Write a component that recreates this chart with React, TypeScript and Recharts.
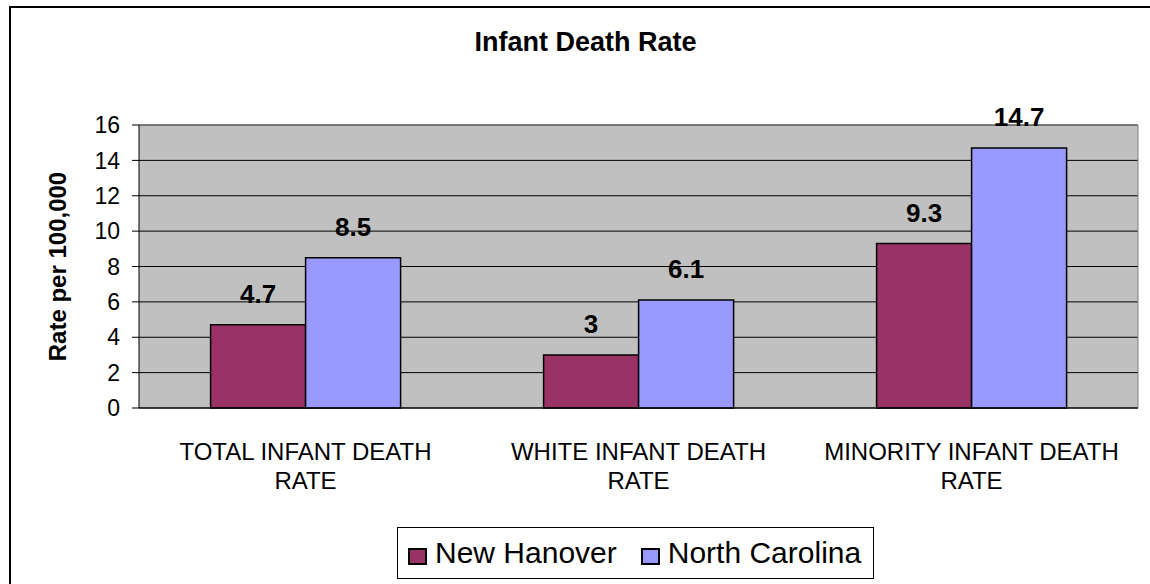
import React from 'react';
import { BarChart, Bar, XAxis, YAxis, CartesianGrid, LabelList, Legend, ReferenceLine } from 'recharts';

const categories = ['TOTAL INFANT DEATH RATE', 'WHITE INFANT DEATH RATE', 'MINORITY INFANT DEATH RATE'];
const newHanover = [4.7, 3, 9.3];
const northCarolina = [8.5, 6.1, 14.7];
const yTicks = [0, 2, 4, 6, 8, 10, 12, 14, 16];
const edgeTicks = [0, 1, 2, 3];

const seriesNames = ['New Hanover', 'North Carolina'];
const seriesColors = ['#993366', '#9999FF'];

const data = categories.map((name, i) => ({
    name,
    newHanover: newHanover[i],
    northCarolina: northCarolina[i],
}));

const FONT = '"Liberation Sans", Arial, sans-serif';

// category label: last word wraps to a second line, like the Excel original
function CategoryTick(props: any) {
    const { x, y, payload } = props;
    const words = String(payload.value).split(' ');
    const last = words.pop();
    return (
        <text x={x} y={y} textAnchor="middle" fontFamily={FONT} fontSize={24} fill="#000">
            <tspan x={x} dy={43}>{words.join(' ')}</tspan>
            <tspan x={x} dy={29}>{last}</tspan>
        </text>
    );
}

function YLabel(props: any) {
    const { viewBox } = props;
    const cx = viewBox.x + 57;
    const cy = viewBox.y + viewBox.height / 2;
    return (
        <text
            x={cx}
            y={cy}
            transform={`rotate(-90, ${cx}, ${cy})`}
            textAnchor="middle"
            dominantBaseline="central"
            fontFamily={FONT}
            fontSize={24}
            fontWeight="bold"
            fill="#000"
        >
            Rate per 100,000
        </text>
    );
}

function LegendBox() {
    return (
        <div
            style={{
                boxSizing: 'border-box',
                width: '100%',
                height: '100%',
                border: '1px solid #000',
                background: '#fff',
                display: 'flex',
                alignItems: 'center',
                paddingLeft: 10,
                fontFamily: FONT,
                fontSize: 30,
                color: '#000',
            }}
        >
            {seriesNames.map((n, i) => (
                <span key={n} style={{ display: 'flex', alignItems: 'center', marginLeft: i === 0 ? 0 : 24 }}>
                    <span
                        style={{
                            display: 'inline-block',
                            width: 15,
                            height: 13,
                            background: seriesColors[i],
                            border: '2px solid #000',
                            marginRight: 8,
                            marginTop: 6,
                        }}
                    />
                    {n}
                </span>
            ))}
        </div>
    );
}

export default function App() {
    return (
        <div style={{ position: 'absolute', left: 0, top: 0, width: 1150, height: 584, background: '#fff', overflow: 'hidden' }}>
            <div
                style={{
                    position: 'absolute',
                    left: 9,
                    top: 6,
                    width: 1200,
                    height: 640,
                    borderTop: '2px solid #000',
                    borderLeft: '2px solid #000',
                }}
            />
            <div
                style={{
                    position: 'absolute',
                    left: 0,
                    top: 27,
                    width: 1171,
                    textAlign: 'center',
                    fontFamily: FONT,
                    fontSize: 27,
                    fontWeight: 'bold',
                    color: '#000',
                }}
            >
                Infant Death Rate
            </div>
            <BarChart
                width={1150}
                height={584}
                data={data}
                margin={{ top: 125, right: 0, bottom: 95, left: 0 }}
                barCategoryGap="21.5%"
                barGap={0}
                style={{ position: 'absolute', left: 0, top: 0 }}
            >
                <CartesianGrid vertical={false} stroke="#000" fill="#C0C0C0" fillOpacity={1} />
                <XAxis
                    xAxisId={0}
                    type="number"
                    domain={[0, 3]}
                    allowDataOverflow
                    ticks={edgeTicks}
                    height={1}
                    tick={false}
                    tickSize={7}
                    axisLine={{ stroke: '#000' }}
                    tickLine={{ stroke: '#000' }}
                />
                <XAxis
                    xAxisId={1}
                    dataKey="name"
                    height={80}
                    axisLine={false}
                    tickLine={false}
                    interval={0}
                    tick={<CategoryTick />}
                />
                <YAxis
                    domain={[0, 16]}
                    ticks={yTicks}
                    width={139}
                    tickSize={7}
                    tickMargin={12}
                    axisLine={{ stroke: '#000' }}
                    tickLine={{ stroke: '#000' }}
                    tick={{ fontSize: 23, fill: '#000', fontFamily: FONT }}
                    label={<YLabel />}
                />
                <YAxis
                    yAxisId="r"
                    orientation="right"
                    domain={[0, 16]}
                    width={12}
                    tick={false}
                    tickLine={false}
                    axisLine={{ stroke: '#808080' }}
                />
                <ReferenceLine y={16} stroke="#808080" />
                <Bar
                    xAxisId={1}
                    dataKey="newHanover"
                    name={seriesNames[0]}
                    fill={seriesColors[0]}
                    stroke="#000"
                    strokeWidth={1.5}
                    isAnimationActive={false}
                >
                    <LabelList dataKey="newHanover" position="top" offset={22} fill="#000" fontSize={26} fontWeight="bold" fontFamily={FONT} />
                </Bar>
                <Bar
                    xAxisId={1}
                    dataKey="northCarolina"
                    name={seriesNames[1]}
                    fill={seriesColors[1]}
                    stroke="#000"
                    strokeWidth={1.5}
                    isAnimationActive={false}
                >
                    <LabelList dataKey="northCarolina" position="top" offset={22} fill="#000" fontSize={26} fontWeight="bold" fontFamily={FONT} />
                </Bar>
                <Legend
                    layout="horizontal"
                    verticalAlign="middle"
                    content={<LegendBox />}
                    wrapperStyle={{ left: 397, top: 527, width: 477, height: 52 }}
                />
            </BarChart>
        </div>
    );
}
